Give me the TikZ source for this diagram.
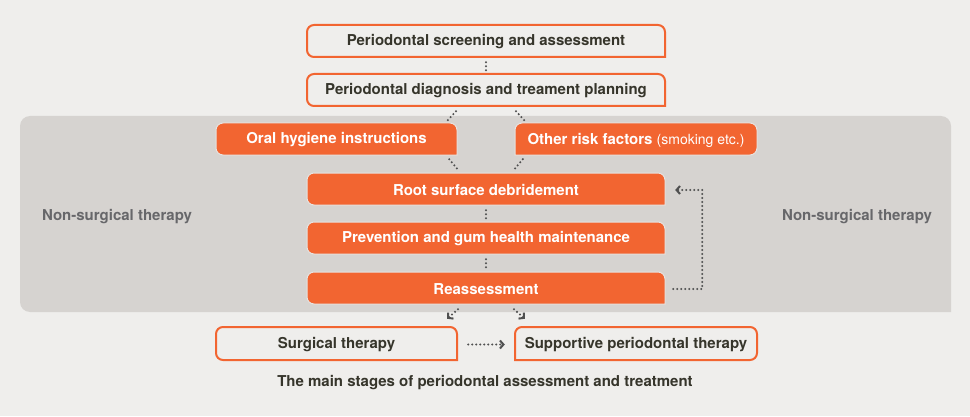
\documentclass[tikz,border=0pt]{standalone}
\usepackage{fontspec}
\setmainfont{TeX Gyre Heros}
\usetikzlibrary{arrows.meta}
\definecolor{bgc}{HTML}{EFEEEC}
\definecolor{panelc}{HTML}{D6D3D0}
\definecolor{orc}{HTML}{F26531}
\definecolor{txc}{HTML}{36352B}
\definecolor{ntc}{HTML}{67676A}
\definecolor{dotc}{HTML}{505050}
\definecolor{edgec}{HTML}{E6E4E2}

% sharp bottom-right corner
\newcommand\boxR[8]{%
 \path[#6] (#2,{416-#5+7}) -- (#2,{416-#3-7}) arc[start angle=180,end angle=90,radius=7pt]
   -- ({#4-7},{416-#3}) arc[start angle=90,end angle=0,radius=7pt]
   -- (#4,{416-#5}) -- ({#2+7},{416-#5}) arc[start angle=270,end angle=180,radius=7pt] -- cycle;
 \node[inner sep=0pt,minimum width={(#4-#2)*1pt},minimum height={(#5-#3)*1pt},#7] (#1) at ({(#2+#4)/2},{416-(#3+#5)/2-1}) {#8};}
% sharp bottom-left corner
\newcommand\boxL[8]{%
 \path[#6] (#2,{416-#5}) -- (#2,{416-#3-7}) arc[start angle=180,end angle=90,radius=7pt]
   -- ({#4-7},{416-#3}) arc[start angle=90,end angle=0,radius=7pt]
   -- (#4,{416-#5+7}) arc[start angle=0,end angle=-90,radius=7pt] -- cycle;
 \node[inner sep=0pt,minimum width={(#4-#2)*1pt},minimum height={(#5-#3)*1pt},#7] (#1) at ({(#2+#4)/2},{416-(#3+#5)/2-1}) {#8};}

\tikzset{
 outl/.style={fill=bgc,draw=orc,line width=2pt},
 solid box/.style={fill=orc,draw=edgec,line width=1pt},
 darktxt/.style={text=txc,font=\fontsize{15}{17}\selectfont\bfseries},
 whitetxt/.style={text=white,font=\fontsize{15}{17}\selectfont\bfseries},
 sidetxt/.style={text=ntc,font=\fontsize{15}{17}\selectfont\bfseries},
 dotline/.style={draw=dotc,line width=2.3pt,line cap=round,dash pattern=on 0pt off 4pt},
 dotarrow/.style={dotline,-{Straight Barb[length=3.5pt,width=8pt,line width=2pt]}},
}

\begin{document}
\begin{tikzpicture}[x=1pt,y=1pt]
\useasboundingbox (0,0) rectangle (970,416);
\fill[bgc] (0,0) rectangle (970,416);
% grey panel (sharp bottom-right)
\path[fill=panelc] (20,{416-312+10}) -- (20,{416-116-10}) arc[start angle=180,end angle=90,radius=10pt]
  -- (941,{416-116}) arc[start angle=90,end angle=0,radius=10pt] -- (951,{416-312}) -- (30,{416-312})
  arc[start angle=270,end angle=180,radius=10pt] -- cycle;
\node[sidetxt] (nsl) at (117,199) {Non-surgical therapy};
\node[sidetxt] (nsr) at (857,199) {Non-surgical therapy};

\boxR{b1}{307}{25}{665}{57}{outl}{darktxt}{Periodontal screening and assessment}
\boxR{b2}{307}{74}{665}{106}{outl}{darktxt}{Periodontal diagnosis and treament planning}
\boxR{oral}{216}{123}{457}{155}{solid box}{whitetxt}{Oral hygiene instructions}
\boxL{risk}{515}{123}{757}{155}{solid box}{whitetxt}{Other risk factors {\mdseries\fontsize{14}{16}\selectfont(smoking etc.)}}
\boxR{root}{307}{173}{665}{205}{solid box}{whitetxt}{Root surface debridement}
\boxR{prev}{307}{222}{665}{254}{solid box}{whitetxt}{Prevention and gum health maintenance}
\boxR{reas}{307}{272}{665}{304}{solid box}{whitetxt}{Reassessment}
\boxR{surg}{216}{327}{457}{360}{outl}{darktxt}{Surgical therapy}
\boxL{supp}{515}{327}{757}{360}{outl}{darktxt}{Supportive periodontal therapy}

\node[darktxt] (cap) at (485,{416-383}) {The main stages of periodontal assessment and treatment};

% connectors
\draw[dotline] ([yshift=-4pt]b1.south) -- ([yshift=4pt]b2.north);
\draw[dotline] ([shift={(-30pt,-4pt)}]b2.south) -- ([shift={(-10pt,3pt)}]oral.north east);
\draw[dotline] ([shift={(30pt,-4pt)}]b2.south) -- ([shift={(10pt,3pt)}]risk.north west);
\draw[dotline] ([shift={(-8pt,-3pt)}]oral.south east) -- ([shift={(-28pt,4pt)}]root.north);
\draw[dotline] ([shift={(8pt,-3pt)}]risk.south west) -- ([shift={(28pt,4pt)}]root.north);
\draw[dotline] ([yshift=-4pt]root.south) -- ([yshift=4pt]prev.north);
\draw[dotline] ([yshift=-4pt]prev.south) -- ([yshift=4pt]reas.north);
\draw[dotarrow] ([shift={(-28pt,-4pt)}]reas.south) -- ([shift={(-10pt,9pt)}]surg.north east);
\draw[dotarrow] ([shift={(28pt,-4pt)}]reas.south) -- ([shift={(10pt,9pt)}]supp.north west);
\draw[dotarrow] ([xshift=11pt]surg.east) -- ([xshift=-10pt]supp.west);
\draw[dotarrow] ([xshift=8pt]reas.east) -| ([xshift=37pt]root.east) -- ([xshift=10pt]root.east);
\end{tikzpicture}
\end{document}
